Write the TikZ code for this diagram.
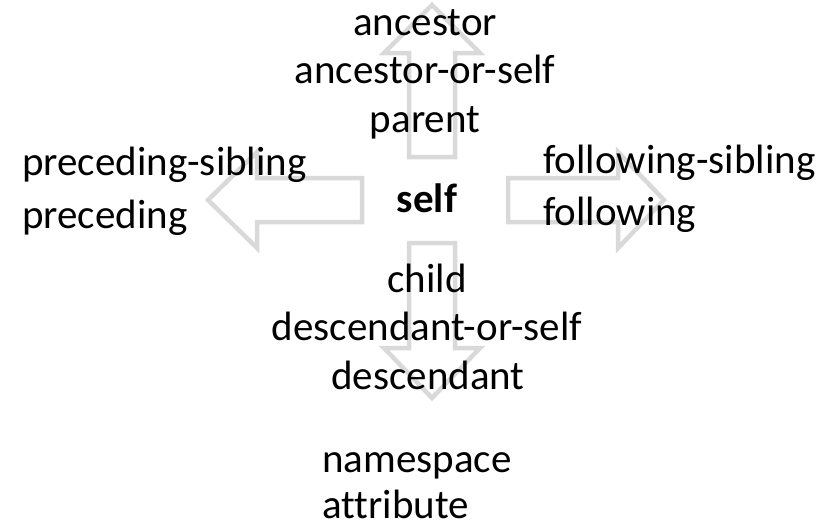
\documentclass[tikz,border=0pt]{standalone}
\usepackage{fontspec}
\setmainfont[Ligatures=NoCommon]{Carlito}
\definecolor{arrowgray}{HTML}{D9D9D9}
\begin{document}
\begin{tikzpicture}[x=1pt,y=-1pt,
  lbl/.style={inner sep=0pt, font=\fontsize{41}{49}\selectfont, anchor=base},
  lblw/.style={lbl, anchor=base west},
  blockarrow/.style={draw=arrowgray, line width=4.5pt, line join=miter}]
\useasboundingbox (0,0) rectangle (831,530);
% block arrows
\draw[blockarrow] (409,157) -- (409,53) -- (384,53) -- (432,5) -- (480,53) -- (455,53) -- (455,157) -- cycle;
\draw[blockarrow] (409,243) -- (409,348) -- (384,348) -- (432,398) -- (480,348) -- (455,348) -- (455,243) -- cycle;
\draw[blockarrow] (362,178) -- (257,178) -- (257,152) -- (208,200) -- (257,248) -- (257,222) -- (362,222) -- cycle;
\draw[blockarrow] (508,178) -- (618,178) -- (618,152) -- (664,200) -- (618,248) -- (618,222) -- (508,222) -- cycle;
% labels
\node[lbl] (anc) at (425,35) {ancestor};
\node[lbl] (ancs) at (425,83.5) {ancestor-or-self};
\node[lbl] (par) at (425,132) {parent};
\node[lblw] (psib) at (22,175) {preceding-sibling};
\node[lblw] (prec) at (22,228) {preceding};
\node[lblw] (fsib) at (543,173) {following-sibling};
\node[lblw] (foll) at (543,225) {following};
\node[lbl, font=\fontsize{41}{49}\selectfont\bfseries] (self) at (427,212) {self};
\node[lbl] (chi) at (427,292) {child};
\node[lbl] (descs) at (427,340) {descendant-or-self};
\node[lbl] (desc) at (428,389) {descendant};
\node[lblw] (ns) at (322,472) {namespace};
\node[lblw] (att) at (322,518) {attribute};
\end{tikzpicture}
\end{document}
